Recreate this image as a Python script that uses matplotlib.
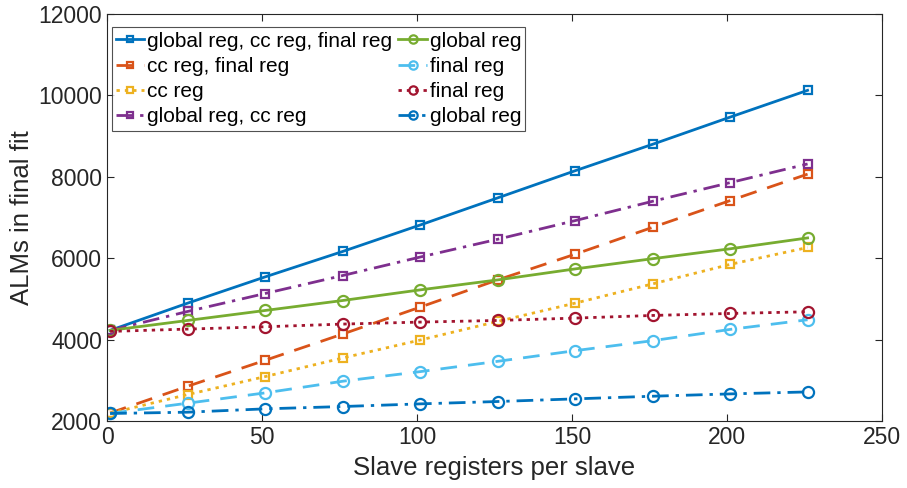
import matplotlib
matplotlib.use("Agg")
import matplotlib.pyplot as plt

plt.rcParams['font.family'] = ['Liberation Sans', 'DejaVu Sans']

# x positions (slave registers per slave)
regs = [1, 26, 51, 76, 101, 126, 151, 176, 201, 226]

# ALMs in final fit, one list per configuration
alms_all = [4229, 4898, 5543, 6167, 6817, 7483, 8150, 8800, 9467, 10125]
alms_cc_final = [2200, 2857, 3494, 4139, 4800, 5469, 6100, 6760, 7417, 8067]
alms_cc = [2195, 2653, 3094, 3551, 3992, 4449, 4898, 5371, 5850, 6265]
alms_global_cc = [4229, 4694, 5135, 5576, 6030, 6467, 6925, 7400, 7858, 8317]
alms_global_a = [4229, 4473, 4718, 4963, 5224, 5469, 5739, 5990, 6233, 6500]
alms_final_a = [2190, 2441, 2694, 2980, 3216, 3469, 3731, 3976, 4253, 4490]
alms_final_b = [4204, 4261, 4318, 4384, 4433, 4473, 4531, 4596, 4645, 4686]
alms_global_b = [2188, 2220, 2302, 2359, 2424, 2482, 2547, 2612, 2669, 2718]

labels = ["global reg, cc reg, final reg", "cc reg, final reg", "cc reg",
          "global reg, cc reg", "global reg", "final reg", "final reg", "global reg"]

series = [alms_all, alms_cc_final, alms_cc, alms_global_cc,
          alms_global_a, alms_final_a, alms_final_b, alms_global_b]
colors = ['#0072BD', '#D95319', '#EDB120', '#7E2F8E',
          '#77AC30', '#4DBEEE', '#A2142F', '#0072BD']
styles = ['-', (0, (6, 4)), (0, (1.2, 1.8)), (0, (6, 2.5, 1.2, 2.5)),
          '-', (0, (6, 4)), (0, (1.2, 1.8)), (0, (6, 2.5, 1.2, 2.5))]
markers = ['s', 's', 's', 's', 'o', 'o', 'o', 'o']

fig = plt.figure(figsize=(9.07, 4.88), dpi=100)
ax = fig.add_axes([0.118, 0.137, 0.8544, 0.8343])

for ys, c, ls, m, lab in zip(series, colors, styles, markers, labels):
    ms = 5.5 if m == 's' else 8
    ax.plot(regs, ys, color=c, linestyle=ls, linewidth=2, marker=m,
            markersize=ms, markerfacecolor='none', markeredgewidth=1.6, label=lab)

ax.set_xlim(0, 250)
ax.set_ylim(2000, 12000)
ax.set_xticks(range(0, 251, 50))
ax.set_yticks(range(2000, 12001, 2000))
ax.tick_params(direction='in', top=True, right=True, labelsize=16.5,
               length=5, width=0.8, colors='#262626')
for sp in ax.spines.values():
    sp.set_color('#262626')
    sp.set_linewidth(0.8)

ax.set_xlabel("Slave registers per slave", fontsize=18.5, color='#262626', labelpad=5)
ax.set_ylabel("ALMs in final fit", fontsize=18.5, color='#262626', labelpad=3)

leg = ax.legend(loc='upper left', bbox_to_anchor=(0.006, 0.967), ncol=2,
                fontsize=15, frameon=True, fancybox=False, edgecolor='#262626',
                handlelength=1.35, handletextpad=0.15, columnspacing=0.3,
                labelspacing=0.3, borderpad=0.2, borderaxespad=0.0,
                markerscale=0.75)
leg.get_frame().set_linewidth(0.8)

fig.savefig("out.png", dpi=100)
